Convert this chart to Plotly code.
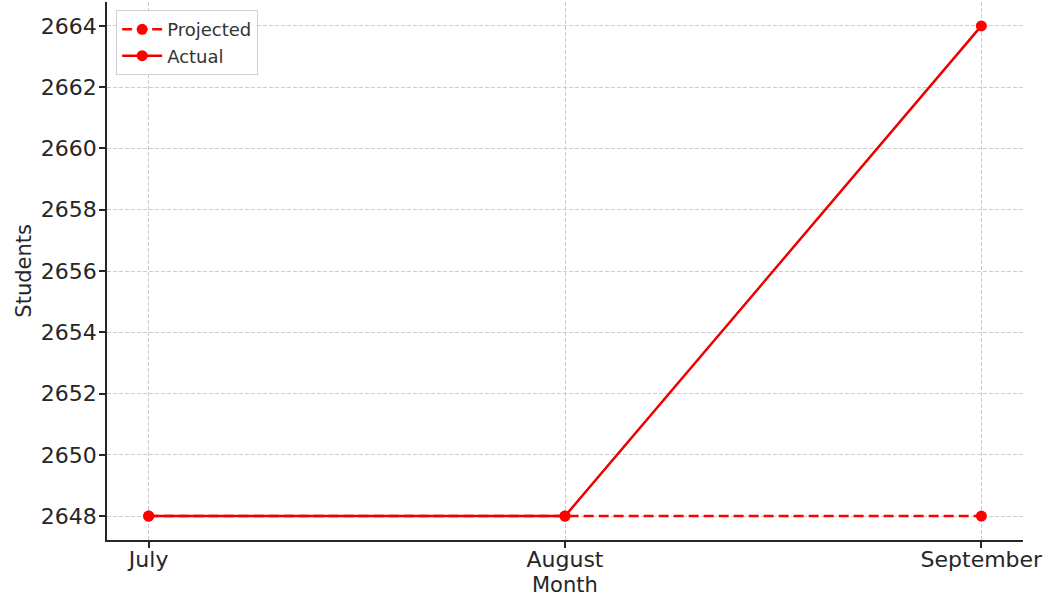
import plotly.graph_objects as go

months = ["July", "August", "September"]
projected = [2648, 2648, 2648]
actual = [2648, 2648, 2664]
y_ticks = [2648, 2650, 2652, 2654, 2656, 2658, 2660, 2662, 2664]

fig = go.Figure()
fig.add_trace(go.Scatter(
    x=[0, 1, 2], y=projected, name="Projected", mode="lines+markers",
    line=dict(color="#ff0000", width=2.5, dash="10px,5px"),
    marker=dict(color="#ff0000", size=11),
))
fig.add_trace(go.Scatter(
    x=[0, 1, 2], y=actual, name="Actual", mode="lines+markers",
    line=dict(color="#ee0000", width=2.5),
    marker=dict(color="#ff0000", size=11),
))

font = "DejaVu Sans"
fig.update_layout(
    width=1049, height=600,
    margin=dict(l=107, r=26, t=2, b=60),
    plot_bgcolor="white", paper_bgcolor="white",
    font=dict(family=font, color="#262626"),
    showlegend=True,
    legend=dict(
        x=0.01, y=0.985, xanchor="left", yanchor="top",
        bgcolor="rgba(255,255,255,0.8)", bordercolor="#d0d0d0", borderwidth=1,
        font=dict(size=18, family=font, color="#333333"),
        itemwidth=40,
    ),
    annotations=[
        dict(text="Month", xref="paper", yref="paper", x=0.5, y=-0.084,
             xanchor="center", yanchor="middle", showarrow=False,
             font=dict(size=21, family=font, color="#262626")),
        dict(text="Students", xref="paper", yref="paper", x=-0.091, y=0.5,
             xanchor="center", yanchor="middle", showarrow=False, textangle=-90,
             font=dict(size=21, family=font, color="#262626")),
    ],
)
fig.update_xaxes(
    range=[-0.1, 2.1], automargin=False,
    tickmode="array", tickvals=[0, 1, 2], ticktext=months,
    tickfont=dict(size=22, family=font, color="#262626"),
    ticklabelstandoff=-7,
    showline=True, linecolor="#262626", linewidth=1.8, mirror=False,
    ticks="outside", ticklen=6, tickcolor="#262626", tickwidth=1.5,
    showgrid=True, gridcolor="#cccccc", griddash="4px,2px", gridwidth=1,
    zeroline=False,
)
fig.update_yaxes(
    range=[2647.22, 2664.78], automargin=False,
    tickmode="array", tickvals=y_ticks,
    tickfont=dict(size=22, family=font, color="#262626"),
    ticklabelstandoff=-2,
    showline=True, linecolor="#262626", linewidth=1.8, mirror=False,
    ticks="outside", ticklen=6, tickcolor="#262626", tickwidth=1.5,
    showgrid=True, gridcolor="#cccccc", griddash="4px,2px", gridwidth=1,
    zeroline=False,
)
fig.write_html("out.html", config={"displayModeBar": False},
               post_script="document.body.style.margin='0px';")
